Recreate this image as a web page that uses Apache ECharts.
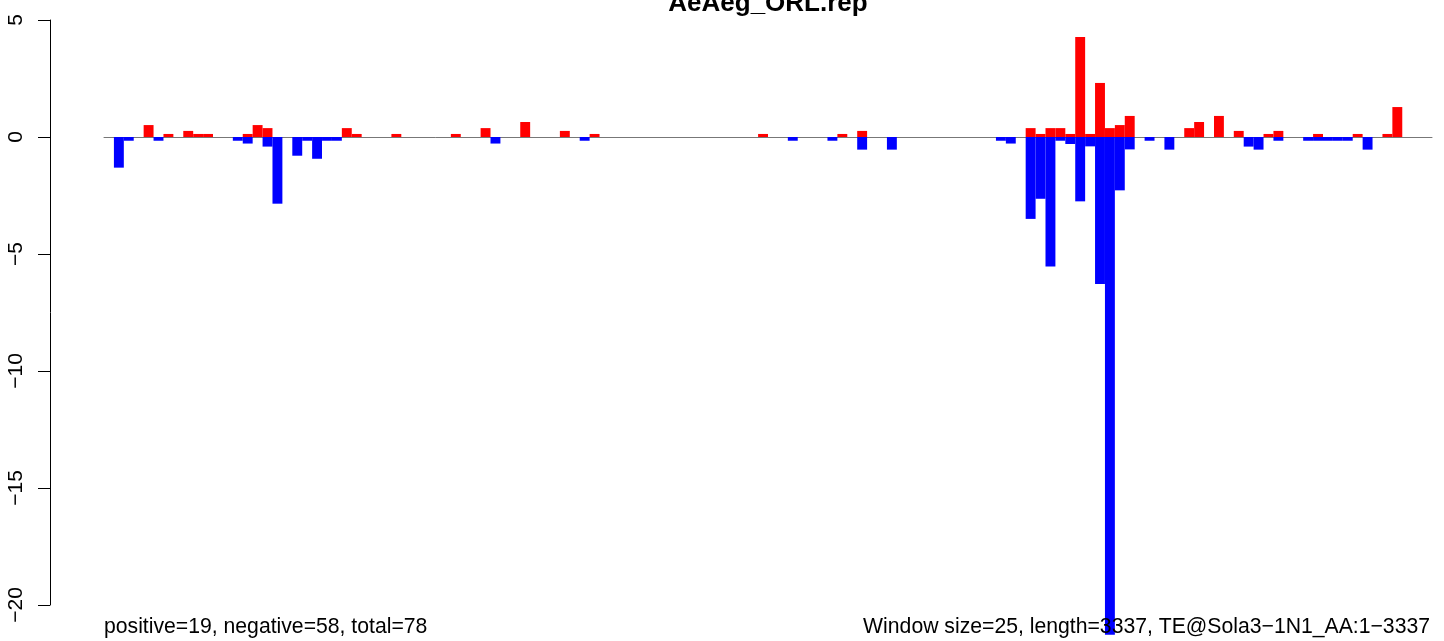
<!DOCTYPE html>
<html lang="en">
<head>
    <meta charset="UTF-8" />
    <title>AeAeg_ORL.rep</title>
    <script src="https://cdn.jsdelivr.net/npm/echarts@6/dist/echarts.min.js"></script>
    <style>html, body { margin: 0; padding: 0; background: #fff; }</style>
</head>
<body>
    <div id="main" style="width: 1444px; height: 641px"></div>
    <script>
        var title = 'AeAeg_ORL.rep'
        var noteLeft = 'positive=19, negative=58, total=78'
        var noteRight = 'Window size=25, length=3337, TE@Sola3\u22121N1_AA:1\u22123337'
        var windowSize = 25
        var yTicks = [5, 0, -5, -10, -15, -20]

        // one value per 25bp window (134 windows), red = positive part
        var positive = [
            0, 0, 0, 0, 0.51, 0, 0.13, 0, 0.26, 0.13,
            0.13, 0, 0, 0, 0.13, 0.51, 0.38, 0, 0, 0,
            0, 0, 0, 0, 0.38, 0.13, 0, 0, 0, 0.13,
            0, 0, 0, 0, 0, 0.13, 0, 0, 0.38, 0,
            0, 0, 0.64, 0, 0, 0, 0.26, 0, 0, 0.13,
            0, 0, 0, 0, 0, 0, 0, 0, 0, 0,
            0, 0, 0, 0, 0, 0, 0.13, 0, 0, 0,
            0, 0, 0, 0, 0.13, 0, 0.26, 0, 0, 0,
            0, 0, 0, 0, 0, 0, 0, 0, 0, 0,
            0, 0, 0, 0.38, 0.13, 0.38, 0.38, 0.13, 4.27, 0.13,
            2.31, 0.38, 0.51, 0.90, 0, 0, 0, 0, 0, 0.38,
            0.64, 0, 0.90, 0, 0.26, 0, 0, 0.13, 0.26, 0,
            0, 0, 0.13, 0, 0, 0, 0.13, 0, 0, 0.13,
            1.28, 0, 0, 0
        ]
        // blue = negative part
        var negative = [
            0, -1.31, -0.16, 0, 0, -0.16, 0, 0, 0, 0,
            0, 0, 0, -0.16, -0.28, 0, -0.41, -2.85, 0, -0.80,
            -0.16, -0.93, -0.16, -0.16, 0, 0, 0, 0, 0, 0,
            0, 0, 0, 0, 0, 0, 0, 0, 0, -0.28,
            0, 0, 0, 0, 0, 0, 0, 0, -0.16, 0,
            0, 0, 0, 0, 0, 0, 0, 0, 0, 0,
            0, 0, 0, 0, 0, 0, 0, 0, 0, -0.16,
            0, 0, 0, -0.16, 0, 0, -0.54, 0, 0, -0.54,
            0, 0, 0, 0, 0, 0, 0, 0, 0, 0,
            -0.16, -0.28, 0, -3.50, -2.64, -5.53, -0.16, -0.30, -2.75, -0.40,
            -6.28, -21.27, -2.28, -0.53, 0, -0.16, 0, -0.54, 0, 0,
            0, 0, 0, 0, 0, -0.41, -0.54, 0, -0.16, 0,
            0, -0.16, -0.16, -0.16, -0.16, -0.16, 0, -0.54, 0, 0,
            0, 0, 0, 0
        ]

        // window start positions as categories
        var windows = positive.map(function (v, i) { return i * windowSize + 1 })

        var font = '"Liberation Sans", Arial, Helvetica, sans-serif'
        var mCharts = echarts.init(document.getElementById('main'))
        var option = {
            animation: false,
            grid: { left: 104, right: 12, top: 20, bottom: 36, containLabel: false, outerBoundsMode: 'none' },
            xAxis: {
                type: 'category',
                data: windows,
                axisLine: { onZero: true, lineStyle: { color: '#777', width: 1 } },
                axisTick: { show: false },
                axisLabel: { show: false },
                splitLine: { show: false }
            },
            yAxis: {
                type: 'value',
                min: yTicks[yTicks.length - 1],
                max: yTicks[0],
                interval: 5,
                offset: 54,
                axisLine: { show: true, lineStyle: { color: '#000', width: 1 } },
                axisTick: { show: true, length: 12, lineStyle: { color: '#000', width: 1 } },
                axisLabel: {
                    rotate: 90,
                    margin: 23,
                    fontSize: 21,
                    fontFamily: font,
                    color: '#000',
                    formatter: function (v) { return String(v).replace('-', '\u2212') }
                },
                splitLine: { show: false }
            },
            series: [
                {
                    type: 'bar',
                    data: positive,
                    itemStyle: { color: '#ff0000' },
                    barCategoryGap: '0%',
                    barGap: '-100%',
                    clip: false
                },
                {
                    type: 'bar',
                    data: negative,
                    itemStyle: { color: '#0000ff' },
                    barCategoryGap: '0%',
                    barGap: '-100%',
                    clip: false
                }
            ],
            graphic: [
                {
                    type: 'text', x: 768, y: 4, z: 100,
                    style: { text: title, font: 'bold 26px ' + font, fill: '#000', align: 'center', verticalAlign: 'middle' }
                },
                {
                    type: 'text', x: 104, y: 627, z: 100,
                    style: { text: noteLeft, font: '21.2px ' + font, fill: '#000', align: 'left', verticalAlign: 'middle' }
                },
                {
                    type: 'text', x: 1430, y: 627, z: 100,
                    style: { text: noteRight, font: '21.2px ' + font, fill: '#000', align: 'right', verticalAlign: 'middle' }
                }
            ]
        }
        mCharts.setOption(option)
    </script>
</body>
</html>
